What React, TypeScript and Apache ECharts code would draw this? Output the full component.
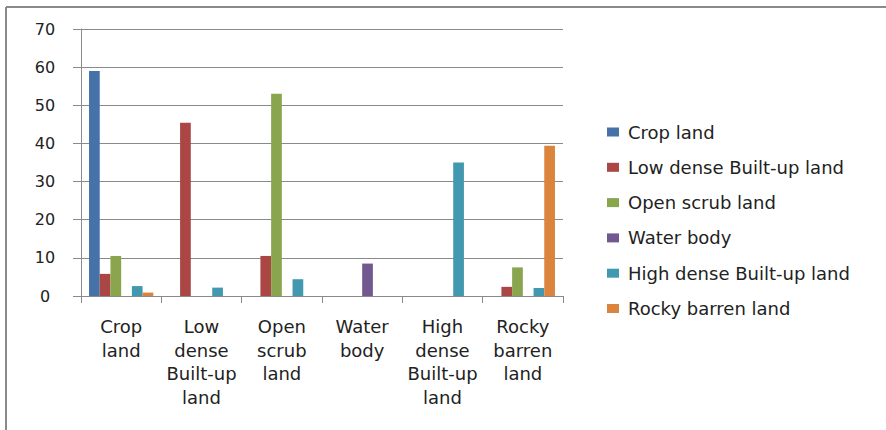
import React, { useEffect, useRef } from "react";
import * as echarts from "echarts";

// Land-cover classes along the category axis
const categories = [
  "Crop land",
  "Low dense Built-up land",
  "Open scrub land",
  "Water body",
  "High dense Built-up land",
  "Rocky barren land",
];

// Tick labels, wrapped the way they are printed under each category
const tickLabels = [
  "Crop\nland",
  "Low\ndense\nBuilt-up\nland",
  "Open\nscrub\nland",
  "Water\nbody",
  "High\ndense\nBuilt-up\nland",
  "Rocky\nbarren\nland",
];

// Percentage of each class (series) within each category
const cropLand = [59.0, 0, 0, 0, 0, 0];
const lowDenseBuiltUp = [5.8, 45.4, 10.5, 0, 0, 2.4];
const openScrub = [10.5, 0, 53.0, 0, 0, 7.5];
const waterBody = [0, 0, 0, 8.5, 0, 0];
const highDenseBuiltUp = [2.6, 2.2, 4.4, 0, 35.0, 2.1];
const rockyBarren = [0.9, 0, 0, 0, 0, 39.4];

const seriesNames = [
  "Crop land",
  "Low dense Built-up land",
  "Open scrub land",
  "Water body",
  "High dense Built-up land",
  "Rocky barren land",
];
const seriesValues = [
  cropLand,
  lowDenseBuiltUp,
  openScrub,
  waterBody,
  highDenseBuiltUp,
  rockyBarren,
];
const seriesColors = ["#4572A7", "#AA4643", "#89A54E", "#71588F", "#4198AF", "#DB843D"];

const yTicks = { min: 0, max: 70, interval: 10 };

const FONT = "DejaVu Sans";
const GRID_COLOR = "#8a8a8a";

export default function App() {
  const ref = useRef<HTMLDivElement>(null);

  useEffect(() => {
    if (!ref.current) return;
    const chart = echarts.init(ref.current, null, { renderer: "svg" });
    chart.setOption({
      animation: false,
      backgroundColor: "#ffffff",
      textStyle: { fontFamily: FONT },
      grid: { left: 81, right: 323, top: 29, bottom: 134 },
      legend: {
        orient: "vertical",
        left: 602,
        top: 118,
        itemWidth: 12,
        itemHeight: 9,
        itemGap: 17.3,
        icon: "rect",
        textStyle: { fontFamily: FONT, fontSize: 18, lineHeight: 18, color: "#222222", padding: [0, 0, 0, 4] },
        data: seriesNames,
      },
      xAxis: {
        type: "category",
        data: categories,
        axisLine: { show: true, lineStyle: { color: GRID_COLOR, width: 1 } },
        axisTick: { show: true, length: 7, lineStyle: { color: GRID_COLOR } },
        axisLabel: {
          interval: 0,
          margin: 19,
          fontFamily: FONT,
          fontSize: 18,
          lineHeight: 23.5,
          color: "#222222",
          formatter: (_v: string, i: number) => tickLabels[i],
        },
      },
      yAxis: {
        type: "value",
        min: yTicks.min,
        max: yTicks.max,
        interval: yTicks.interval,
        axisLine: { show: true, lineStyle: { color: GRID_COLOR, width: 1 } },
        axisTick: { show: true, length: 8, lineStyle: { color: GRID_COLOR } },
        splitLine: { show: true, lineStyle: { color: GRID_COLOR, width: 1 } },
        axisLabel: {
          margin: 36,
          align: "center",
          fontFamily: FONT,
          fontSize: 16,
          color: "#222222",
        },
      },
      series: seriesNames.map((name, i) => ({
        name,
        type: "bar",
        data: seriesValues[i],
        barGap: "0%",
        barCategoryGap: "20%",
        itemStyle: { color: seriesColors[i] },
      })),
      graphic: [
        {
          type: "line",
          shape: { x1: 6, y1: 7, x2: 886, y2: 7 },
          style: { stroke: "#8a8a8a", lineWidth: 2 },
        },
        {
          type: "line",
          shape: { x1: 6, y1: 7, x2: 6, y2: 430 },
          style: { stroke: "#8a8a8a", lineWidth: 2 },
        },
      ],
    });
    return () => chart.dispose();
  }, []);

  return (
    <div
      ref={ref}
      style={{ position: "fixed", left: 0, top: 0, width: 886, height: 430, background: "#fff" }}
    />
  );
}
